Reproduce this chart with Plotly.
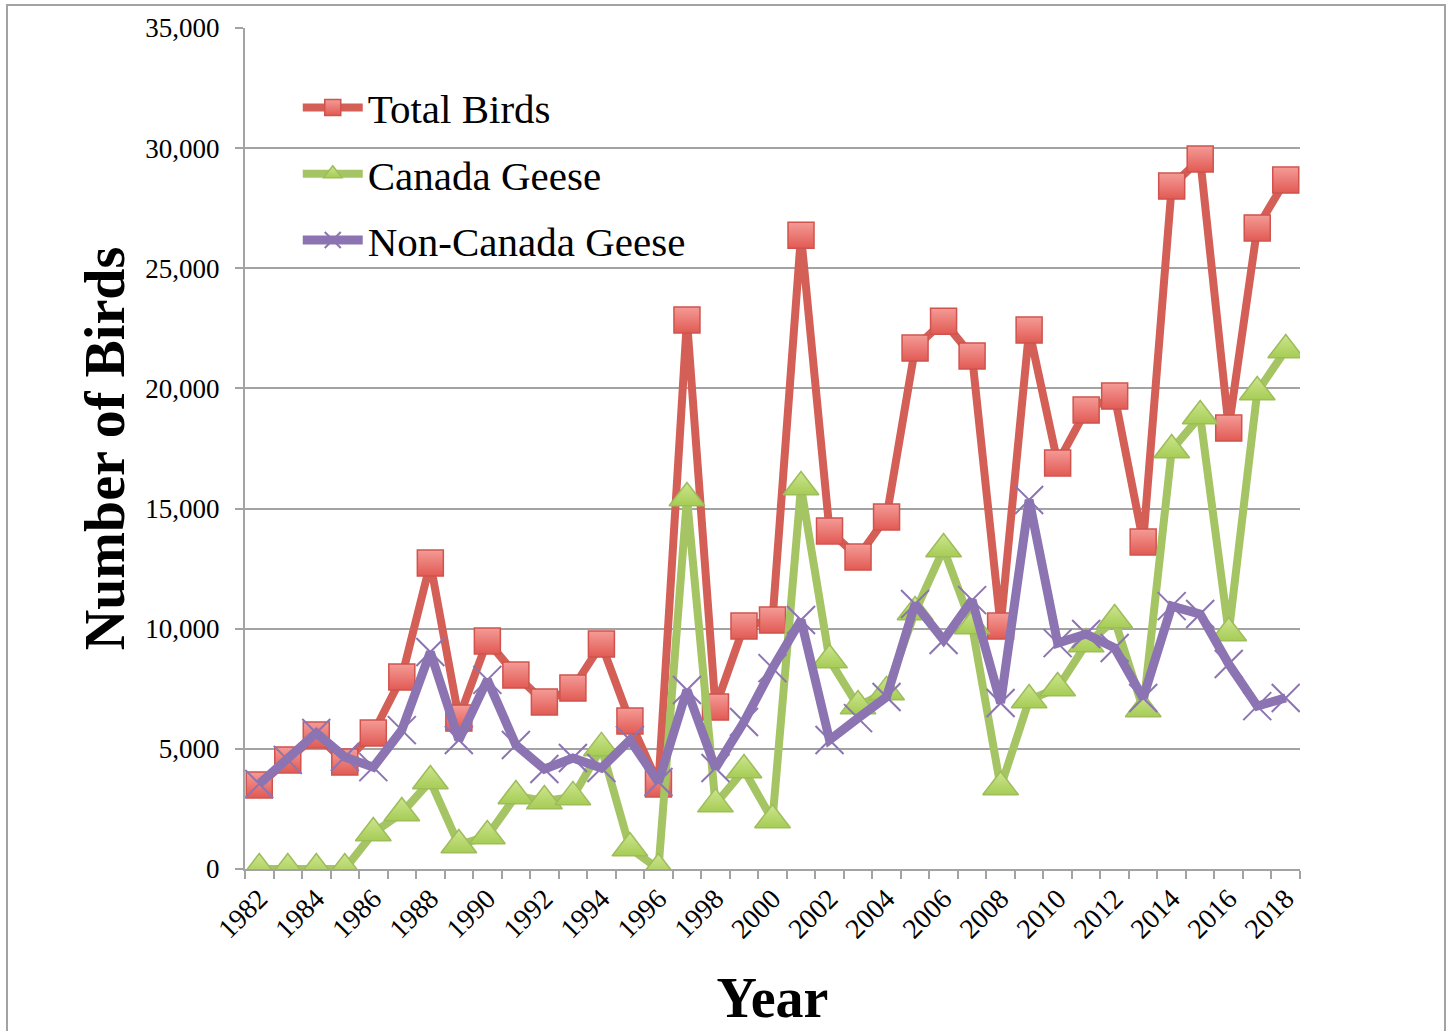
import plotly.graph_objects as go

years = list(range(1982, 2019))
total_birds = [3500, 4540, 5580, 4450, 5660, 7990, 12730, 6280, 9490, 8070,
               6950, 7530, 9360, 6160, 3540, 22850, 6740, 10110, 10360, 26380,
               14070, 12980, 14650, 21680, 22800, 21350, 10110, 22430, 16900, 19100,
               19680, 13610, 28420, 29550, 18350, 26680, 28670]
canada_geese = [0, 0, 0, 0, 1500, 2330, 3660, 1000, 1370, 3040,
                2830, 3000, 5040, 870, 0, 15440, 2700, 4120, 2040, 15900,
                8700, 6780, 7370, 10700, 13320, 10110, 3410, 7030, 7530, 9360,
                10360, 6660, 17440, 18850, 9820, 19850, 21600]
non_canada_geese = [3540, 4540, 5660, 4660, 4240, 5780, 9030, 5370, 7870, 5160,
                    4160, 4620, 4200, 5370, 3620, 7450, 4200, 6120, 8360, 10360,
                    5370, 6280, 7160, 11030, 9530, 11190, 6910, 15360, 9400, 9780,
                    9200, 7120, 10940, 10610, 8530, 6780, 7120]
label_years = list(range(1982, 2019, 2))
label_text = [str(y) for y in label_years]
y_ticks = [0, 5000, 10000, 15000, 20000, 25000, 30000, 35000]
y_tick_text = ["0", "5,000", "10,000", "15,000", "20,000", "25,000", "30,000", "35,000"]

FONT = "Liberation Serif"
GRID = "#a3a3a3"

fig = go.Figure()
fig.add_trace(go.Scatter(
    x=years, y=total_birds, name="Total Birds", mode="lines+markers",
    legendgroup="a",
    line=dict(color="#d35f57", width=8),
    marker=dict(symbol="square", size=26, color="#f49b96",
                gradient=dict(type="vertical", color="#e25a54"),
                line=dict(color="#d0534d", width=1.5)),
))
fig.add_trace(go.Scatter(
    x=years, y=canada_geese, name="Canada Geese", mode="lines+markers",
    legendgroup="b",
    line=dict(color="#a5c463", width=8),
    marker=dict(symbol="triangle-up", size=31, color="#cde58e",
                gradient=dict(type="vertical", color="#a6cc55"),
                line=dict(color="#9dbd5b", width=1.5)),
))
fig.add_trace(go.Scatter(
    x=years, y=non_canada_geese, name="Non-Canada Geese", mode="lines+markers",
    legendgroup="c",
    line=dict(color="#8c74b2", width=9),
    marker=dict(symbol="x-thin-open", size=28, color="#8c74b2",
                line=dict(color="#8c74b2", width=2)),
))

fig.update_layout(
    width=1452, height=1031,
    margin=dict(l=245, r=152, t=28, b=162),
    paper_bgcolor="white", plot_bgcolor="white",
    font=dict(family=FONT, color="black", size=26),
    showlegend=True,
    legend=dict(x=0.05, y=0.945, xanchor="left", yanchor="top",
                bgcolor="rgba(0,0,0,0)", font=dict(family=FONT, size=41),
                tracegroupgap=10, itemwidth=60),
    xaxis=dict(
        range=[1981.5, 2018.5], tickmode="array", tickvals=label_years, ticktext=label_text,
        tickangle=-45, ticks="", showgrid=False, zeroline=False,
        showline=True, linecolor=GRID, linewidth=2,
        tickfont=dict(family=FONT, size=28),
        minor=dict(tickmode="array", tickvals=[y - 0.5 for y in years] + [2018.5],
                   ticks="outside", ticklen=8, tickcolor=GRID, tickwidth=2, showgrid=False),
        title=dict(text="<b>Year</b>", font=dict(family=FONT, size=56), standoff=34),
    ),
    yaxis=dict(
        range=[0, 35000], tickmode="array", tickvals=y_ticks, ticktext=y_tick_text,
        ticks="outside", ticklen=8, tickcolor=GRID, tickwidth=2,
        ticklabelstandoff=10,
        showgrid=True, gridcolor=GRID, gridwidth=2, zeroline=False,
        showline=True, linecolor=GRID, linewidth=2,
        tickfont=dict(family=FONT, size=27),
        title=dict(text="<b>Number of Birds</b>", font=dict(family=FONT, size=56), standoff=3),
    ),
    shapes=[dict(type="rect", xref="paper", yref="paper",
                 x0=(7 - 245) / 1055, x1=(1445 - 245) / 1055,
                 y0=(869 - 1045) / 841, y1=(869 - 5) / 841,
                 line=dict(color=GRID, width=2), fillcolor="rgba(0,0,0,0)", layer="below")],
)

fig.write_html("out.html", config={"displayModeBar": False},
               post_script="document.body.style.margin='0';")
